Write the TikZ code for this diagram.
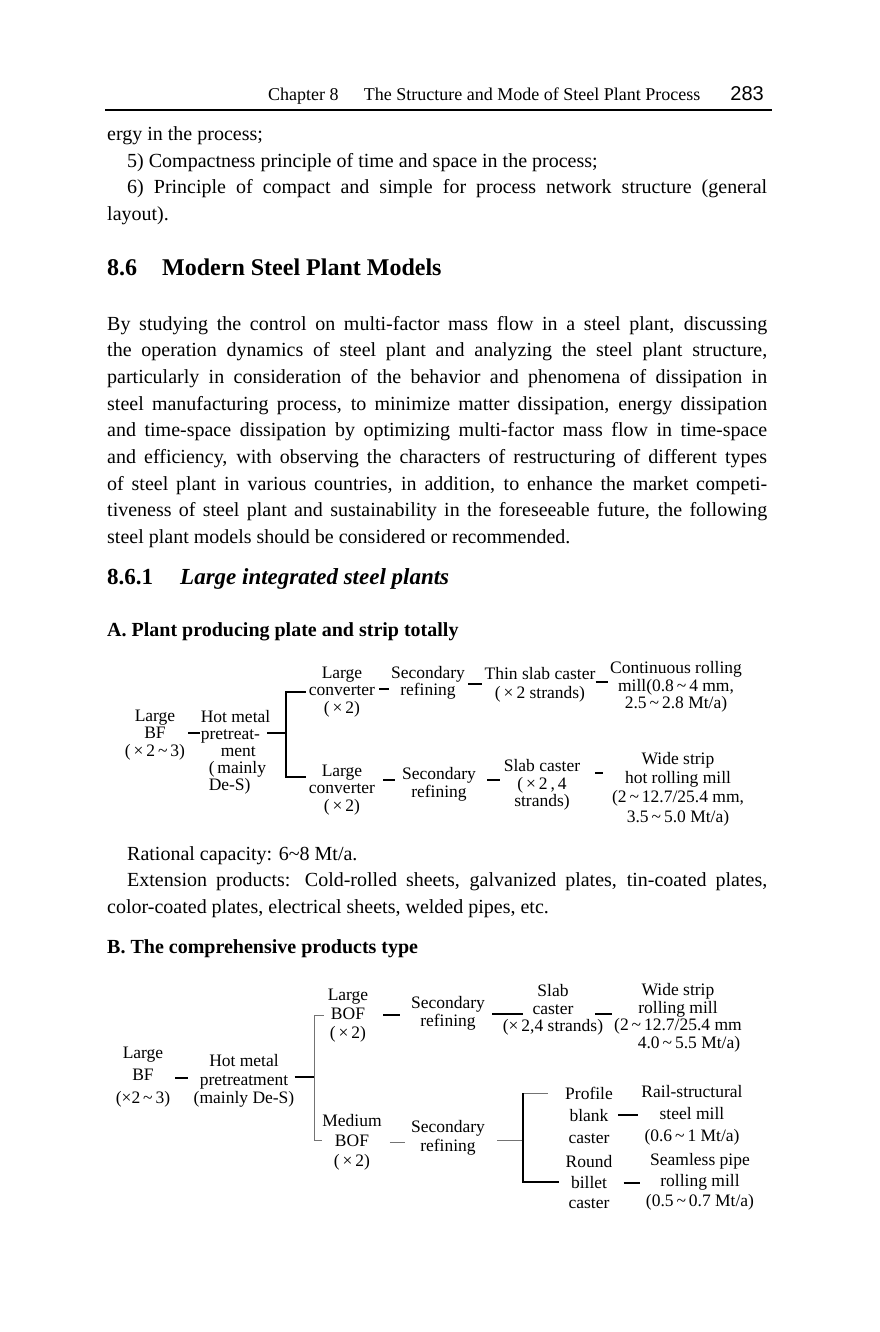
\documentclass[tikz,border=0pt]{standalone}
\usepackage{fontspec}
\setmainfont{Liberation Serif}
\newfontfamily\pgnumfont{Liberation Sans}
\newcommand\tl{\textasciitilde}
\begin{document}
\begin{tikzpicture}[x=1pt,y=-1pt,
  body/.style={anchor=base west, inner sep=0pt, font=\fontsize{20}{26.6}\selectfont},
  bodyb/.style={anchor=base west, inner sep=0pt, font=\fontsize{#1}{#1}\bfseries\selectfont},
  dg/.style={align=center, inner sep=0pt, font=\fontsize{17.5}{#1}\selectfont},
  dg/.default=17.5,
  cn/.style={line width=1.1pt},
  cnb/.style={line width=2.2pt},
  cng/.style={line width=1pt, draw=black!55},
  brk/.style={line width=1.8pt},
]
\path[use as bounding box, fill=white] (0,0) rectangle (879,1332);

% ---------- header ----------
\node[anchor=base west, inner sep=0pt, font=\fontsize{18}{18}\selectfont] (hdr) at (268,101)
  {Chapter 8\hspace{1.4em}The Structure and Mode of Steel Plant Process};
\node[anchor=base east, inner sep=0pt, font=\fontsize{20}{20}\pgnumfont] (pg) at (764,101) {283};
\draw[line width=1.3pt] (105,110) -- (772,110);

% ---------- body text ----------
\node[body] (l1) at (107,141) {ergy in the process;};
\node[body] (l2) at (127,168) {5) Compactness principle of time and space in the process;};
\node[body] (l3) at (127,194) {\makebox[640pt][s]{6) Principle of compact and simple for process network structure (general}};
\node[body] (l4) at (107,221) {layout).};

\node[bodyb=24] (h1n) at (107,275) {8.6};
\node[bodyb=24] (h1t) at (162,275) {Modern Steel Plant Models};

\node[body] (p1) at (107,330.0) {\makebox[660pt][s]{By studying the control on multi-factor mass flow in a steel plant, discussing}};
\node[body] (p2) at (107,356.7) {\makebox[660pt][s]{the operation dynamics of steel plant and analyzing the steel plant structure,}};
\node[body] (p3) at (107,383.4) {\makebox[660pt][s]{particularly in consideration of the behavior and phenomena of dissipation in}};
\node[body] (p4) at (107,410.1) {\makebox[660pt][s]{steel manufacturing process, to minimize matter dissipation, energy dissipation}};
\node[body] (p5) at (107,436.8) {\makebox[660pt][s]{and time-space dissipation by optimizing multi-factor mass flow in time-space}};
\node[body] (p6) at (107,463.5) {\makebox[660pt][s]{and efficiency, with observing the characters of restructuring of different types}};
\node[body] (p7) at (107,490.2) {\makebox[660pt][s]{of steel plant in various countries, in addition, to enhance the market competi-}};
\node[body] (p8) at (107,516.9) {\makebox[660pt][s]{tiveness of steel plant and sustainability in the foreseeable future, the following}};
\node[body] (p9) at (107,543.6) {steel plant models should be considered or recommended.};

\node[bodyb=23] (h2n) at (107,584) {8.6.1};
\node[bodyb=23, font=\fontsize{23}{23}\bfseries\itshape\selectfont] (h2t) at (180,584) {Large integrated steel plants};

\node[bodyb=20] (ha) at (107,636) {A. Plant producing plate and strip totally};

% ---------- diagram A ----------
\node[dg] (bfA) at (155,735) {Large\\BF\\(\,×\,2\,\tl\,3)};
\node[dg=17, align=left] (hmA) at (235.5,752) {Hot metal\\pretreat-\\\hspace*{20pt}ment\\\hspace*{8pt}(\,mainly\\\hspace*{8pt}De-S)};
\node[dg] (lc1) at (342,692) {Large\\converter\\(\,×\,2)};
\node[dg] (sr1) at (428,683) {Secondary\\refining};
\node[dg=19] (tsc) at (540,685) {Thin slab caster\\(\,×\,2 strands)};
\node[dg] (cr) at (676,687) {Continuous rolling\\mill(0.8\,\tl\,4 mm,\\2.5\,\tl\,2.8 Mt/a)};
\node[dg] (lc2) at (342,790) {Large\\converter\\(\,×\,2)};
\node[dg=18] (sr2) at (439,784) {Secondary\\refining};
\node[dg] (sc) at (542,785) {Slab caster\\(\,×\,2\,,\,4\\strands)};
\node[dg=19.3] (ws) at (678,789) {Wide strip\\hot rolling mill\\(2\,\tl\,12.7/25.4 mm,\\3.5\,\tl\,5.0 Mt/a)};

\coordinate (aTop) at (286,692);
\coordinate (aBot) at (286,777);
\draw[cn, shorten <=3pt, shorten >=1pt] (bfA.east |- 0,733) -- (hmA.west |- 0,733);
\draw[cn] ([xshift=-3pt]hmA.east |- 0,733) -- (aTop |- 0,733);
\draw[brk, shorten <=3pt, shorten >=3pt] (lc1.west |- aTop) -- (aTop) -- (aBot) -- (lc2.west |- aBot);
\draw[cn, shorten <=4pt, shorten >=2pt] (lc1.east |- 0,689) -- (sr1.west |- 0,689);
\draw[cn, shorten <=3pt, shorten >=2pt] (sr1.east |- 0,684) -- (tsc.west |- 0,684);
\draw[cn, shorten >=2pt] (tsc.east |- 0,682) -- (cr.west |- 0,682);
\draw[cn, shorten <=8pt, shorten >=7pt] (lc2.east |- 0,780) -- (sr2.west |- 0,780);
\draw[cn, shorten <=11pt, shorten >=4pt] (sr2.east |- 0,780) -- (sc.west |- 0,780);
\draw[cn, shorten <=15pt, shorten >=9pt] (sc.east |- 0,773) -- (ws.west |- 0,773);

% ---------- text between ----------
\node[body] (r1) at (127,860) {Rational capacity: 6\tl8 Mt/a.};
\node[body] (r2) at (127,886.6) {\makebox[640pt][s]{Extension products: Cold-rolled sheets, galvanized plates, tin-coated plates,}};
\node[body] (r3) at (107,913.2) {color-coated plates, electrical sheets, welded pipes, etc.};
\node[bodyb=20] (hb) at (107,953) {B. The comprehensive products type};

% ---------- diagram B ----------
\node[dg=22.5] (bfB) at (143,1077) {Large\\BF\\(×2\,\tl\,3)};
\node[dg=18.5] (hmB) at (244,1081) {Hot metal\\pretreatment\\(mainly De-S)};
\node[dg=19] (lbof) at (348,1016) {Large\\BOF\\(\,×\,2)};
\node[dg=20] (mbof) at (352,1142) {Medium\\BOF\\(\,×\,2)};
\node[dg=18] (srB1) at (448,1013) {Secondary\\refining};
\node[dg=19] (srB2) at (448,1138) {Secondary\\refining};
\node[dg=17.5] (slab) at (553,1010) {Slab\\caster\\(×\,2,4 strands)};
\node[dg=17.5] (wsB) at (678,1018) {Wide strip\\rolling mill\\(2\,\tl\,12.7/25.4 mm\\\hspace*{22pt}4.0\,\tl\,5.5 Mt/a)};
\node[dg=22] (pbc) at (589,1115) {Profile\\blank\\caster};
\node[dg=22] (rsm) at (692,1115) {Rail-structural\\steel mill\\(0.6\,\tl\,1 Mt/a)};
\node[dg=20.5] (rbc) at (589,1182) {Round\\billet\\caster};
\node[dg=20.5] (spm) at (700,1182) {Seamless pipe\\rolling mill\\(0.5\,\tl\,0.7 Mt/a)};

\coordinate (bTop) at (314,1015);
\coordinate (bBot) at (314,1140);
\coordinate (cTop) at (523,1093);
\coordinate (cBot) at (523,1182);
\draw[cnb, shorten <=5pt, shorten >=6pt] (bfB.east |- 0,1078) -- (hmB.west |- 0,1078);
\draw[cnb] (hmB.east |- 0,1077) -- (bTop |- 0,1077);
\draw[cng, shorten <=4pt] (lbof.west |- bTop) -- (bTop) -- (bBot) -- (mbof.west |- bBot);
\draw[cnb, shorten <=15pt, shorten >=11pt] (lbof.east |- 0,1015) -- (srB1.west |- 0,1015);
\draw[cnb, shorten <=7pt, shorten >=30pt] (srB1.east |- 0,1014) -- (slab.center |- 0,1014);
\draw[cnb, shorten <=42pt, shorten >=66pt] (slab.center |- 0,1014) -- (wsB.center |- 0,1014);
\draw[cng, shorten <=8pt, shorten >=6pt] (mbof.east |- 0,1142) -- (srB2.west |- 0,1142);
\draw[cng, shorten <=12pt] (srB2.east |- 0,1140) -- (cTop |- 0,1140);
\draw[cng, shorten <=17pt] (pbc.west |- cTop) -- (cTop);
\draw[brk, line width=1.5pt, shorten >=6pt] (cTop) -- (cBot) -- (rbc.west |- cBot);
\draw[cn, shorten <=5pt, shorten >=3.5pt] (pbc.east |- 0,1115) -- (rsm.west |- 0,1115);
\draw[cn, shorten <=11pt, shorten >=6pt] (rbc.east |- 0,1183) -- (spm.west |- 0,1183);
\end{tikzpicture}
\end{document}
